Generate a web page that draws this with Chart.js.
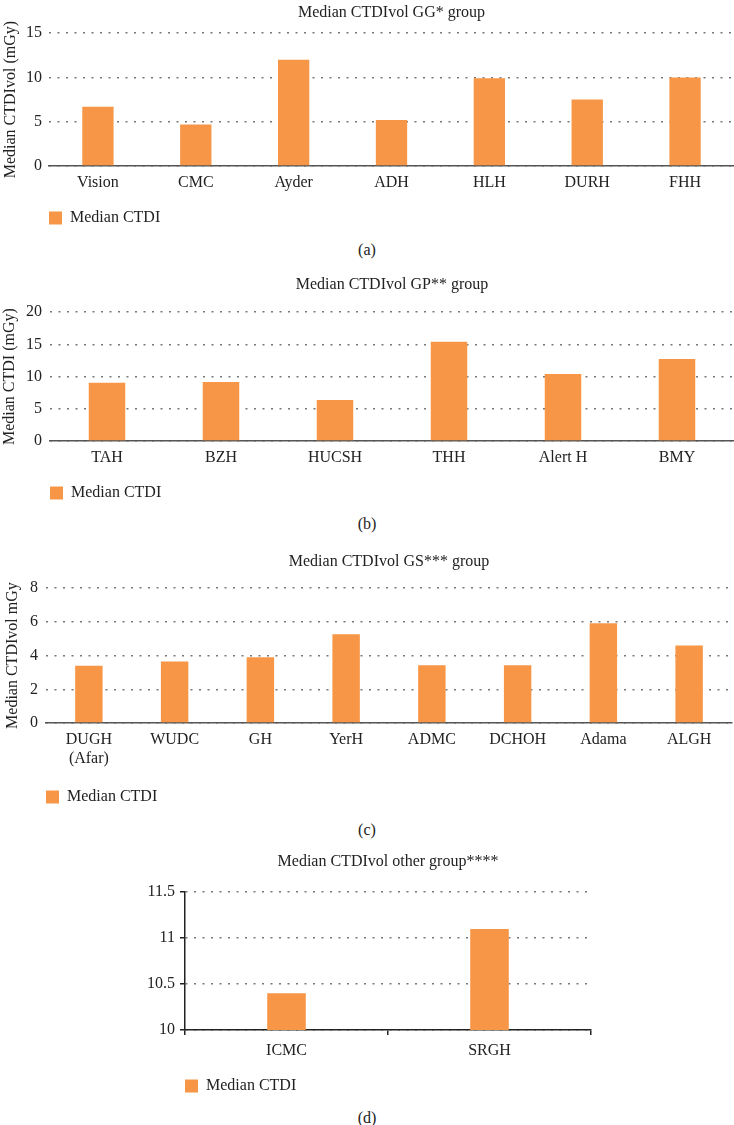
<!DOCTYPE html>
<html>
<head>
<meta charset="utf-8">
<script src="https://cdn.jsdelivr.net/npm/chart.js@4.4.1/dist/chart.umd.min.js"></script>
<style>
  body { margin: 0; background: #fff; width: 734px; height: 1125px; position: relative; overflow: hidden; }
  canvas { position: absolute; left: 0; }
  .cap { position: absolute; left: 0; width: 734px; text-align: center; font: 16px 'Liberation Serif', serif; color: #222; line-height: 20px; }
</style>
</head>
<body>
<canvas id="chartA" width="734" height="236" style="top:0px"></canvas>
<div class="cap" style="top:240px">(a)</div>
<canvas id="chartB" width="734" height="241" style="top:270px"></canvas>
<div class="cap" style="top:514px">(b)</div>
<canvas id="chartC" width="734" height="270" style="top:545px"></canvas>
<div class="cap" style="top:820px">(c)</div>
<canvas id="chartD" width="734" height="264" style="top:840px"></canvas>
<div class="cap" style="top:1108px">(d)</div>

<script>
// values
const hospitalsGG = ['Vision', 'CMC', 'Ayder', 'ADH', 'HLH', 'DURH', 'FHH'];
const ctdiGG = [6.7, 4.7, 12.0, 5.2, 9.9, 7.5, 10.0];

const hospitalsGP = ['TAH', 'BZH', 'HUCSH', 'THH', 'Alert H', 'BMY'];
const ctdiGP = [9.05, 9.15, 6.35, 15.4, 10.4, 12.75];

const hospitalsGS = [['DUGH', '(Afar)'], 'WUDC', 'GH', 'YerH', 'ADMC', 'DCHOH', 'Adama', 'ALGH'];
const ctdiGS = [3.4, 3.65, 3.9, 5.27, 3.42, 3.42, 5.92, 4.6];

const hospitalsOther = ['ICMC', 'SRGH'];
const ctdiOther = [10.4, 11.1];

// y axis: min, max, step
const axisGG = [0, 15, 5];
const axisGP = [0, 20, 5];
const axisGS = [0, 8, 2];
const axisOther = [10, 11.5, 0.5];

const BAR = '#f79646';
const TEXT = '#222';

Chart.defaults.font.family = "'Liberation Serif', 'Times New Roman', serif";
Chart.defaults.font.size = 16;
Chart.defaults.color = TEXT;

function makeChart(id, labels, values, axis, o) {
  const withTicks = !!o.ticks;
  return new Chart(document.getElementById(id), {
    type: 'bar',
    data: {
      labels: labels,
      datasets: [{
        label: 'Median CTDI',
        data: values,
        backgroundColor: BAR,
        borderWidth: 0,
        barPercentage: o.barPct,
        categoryPercentage: 1
      }]
    },
    options: {
      responsive: false,
      animation: false,
      layout: { padding: { left: o.padLeft || 0, right: o.padRight || 0, top: 0, bottom: 0 } },
      plugins: {
        title: {
          display: true,
          text: o.title,
          fullSize: false,
          color: TEXT,
          font: { size: 16, weight: 'normal' },
          padding: o.titlePad
        },
        legend: {
          position: 'bottom',
          align: 'start',
          fullSize: false,
          labels: { boxWidth: 13, boxHeight: 13, padding: 0, color: TEXT }
        },
        tooltip: { enabled: false }
      },
      scales: {
        x: {
          grid: {
            display: withTicks,
            drawOnChartArea: false,
            drawTicks: withTicks,
            tickLength: 5,
            color: '#222',
            lineWidth: 1.5
          },
          border: { display: true, color: withTicks ? '#222' : '#555', width: 1.5 },
          ticks: { padding: o.xPad, color: TEXT },
          afterFit: s => { s.height = o.xHeight; }
        },
        y: {
          min: axis[0],
          max: axis[1],
          ticks: {
            stepSize: axis[2],
            padding: withTicks ? 5 : o.yPad,
            color: TEXT,
            callback: v => String(+v)
          },
          grid: {
            color: '#777',
            lineWidth: 1.5,
            drawTicks: withTicks,
            tickLength: 5,
            tickColor: '#222',
            tickBorderDash: []
          },
          border: { display: withTicks, color: '#222', width: 1.5, dash: [2, 6.5] },
          title: {
            display: !!o.yTitle,
            text: o.yTitle,
            color: TEXT,
            font: { size: 16 },
            padding: { top: o.yTitlePad || 0, bottom: 0 }
          },
          afterFit: s => { s.width = o.yWidth; }
        }
      }
    }
  });
}

makeChart('chartA', hospitalsGG, ctdiGG, axisGG, {
  title: 'Median CTDIvol GG* group',
  titlePad: { top: 3, bottom: 11 },
  yTitle: 'Median CTDIvol (mGy)', yTitlePad: 1,
  yWidth: 49, yPad: 7, xHeight: 44, xPad: 7, barPct: 0.32
});

makeChart('chartB', hospitalsGP, ctdiGP, axisGP, {
  title: 'Median CTDIvol GP** group',
  titlePad: { top: 5, bottom: 18 },
  yTitle: 'Median CTDI (mGy)', yTitlePad: 0,
  yWidth: 50, yPad: 8, xHeight: 44, xPad: 7, barPct: 0.32
});

makeChart('chartC', hospitalsGS, ctdiGS, axisGS, {
  title: 'Median CTDIvol GS*** group',
  titlePad: { top: 7, bottom: 17 },
  yTitle: 'Median CTDIvol mGy', yTitlePad: 3,
  yWidth: 46, yPad: 8, xHeight: 66, xPad: 7, barPct: 0.32, padRight: 2
});

makeChart('chartD', hospitalsOther, ctdiOther, axisOther, {
  title: 'Median CTDIvol other group****',
  titlePad: { top: 12, bottom: 21 },
  yWidth: 40, xHeight: 48, xPad: 6, barPct: 0.19,
  padLeft: 145, padRight: 143, ticks: true
});
</script>
</body>
</html>
